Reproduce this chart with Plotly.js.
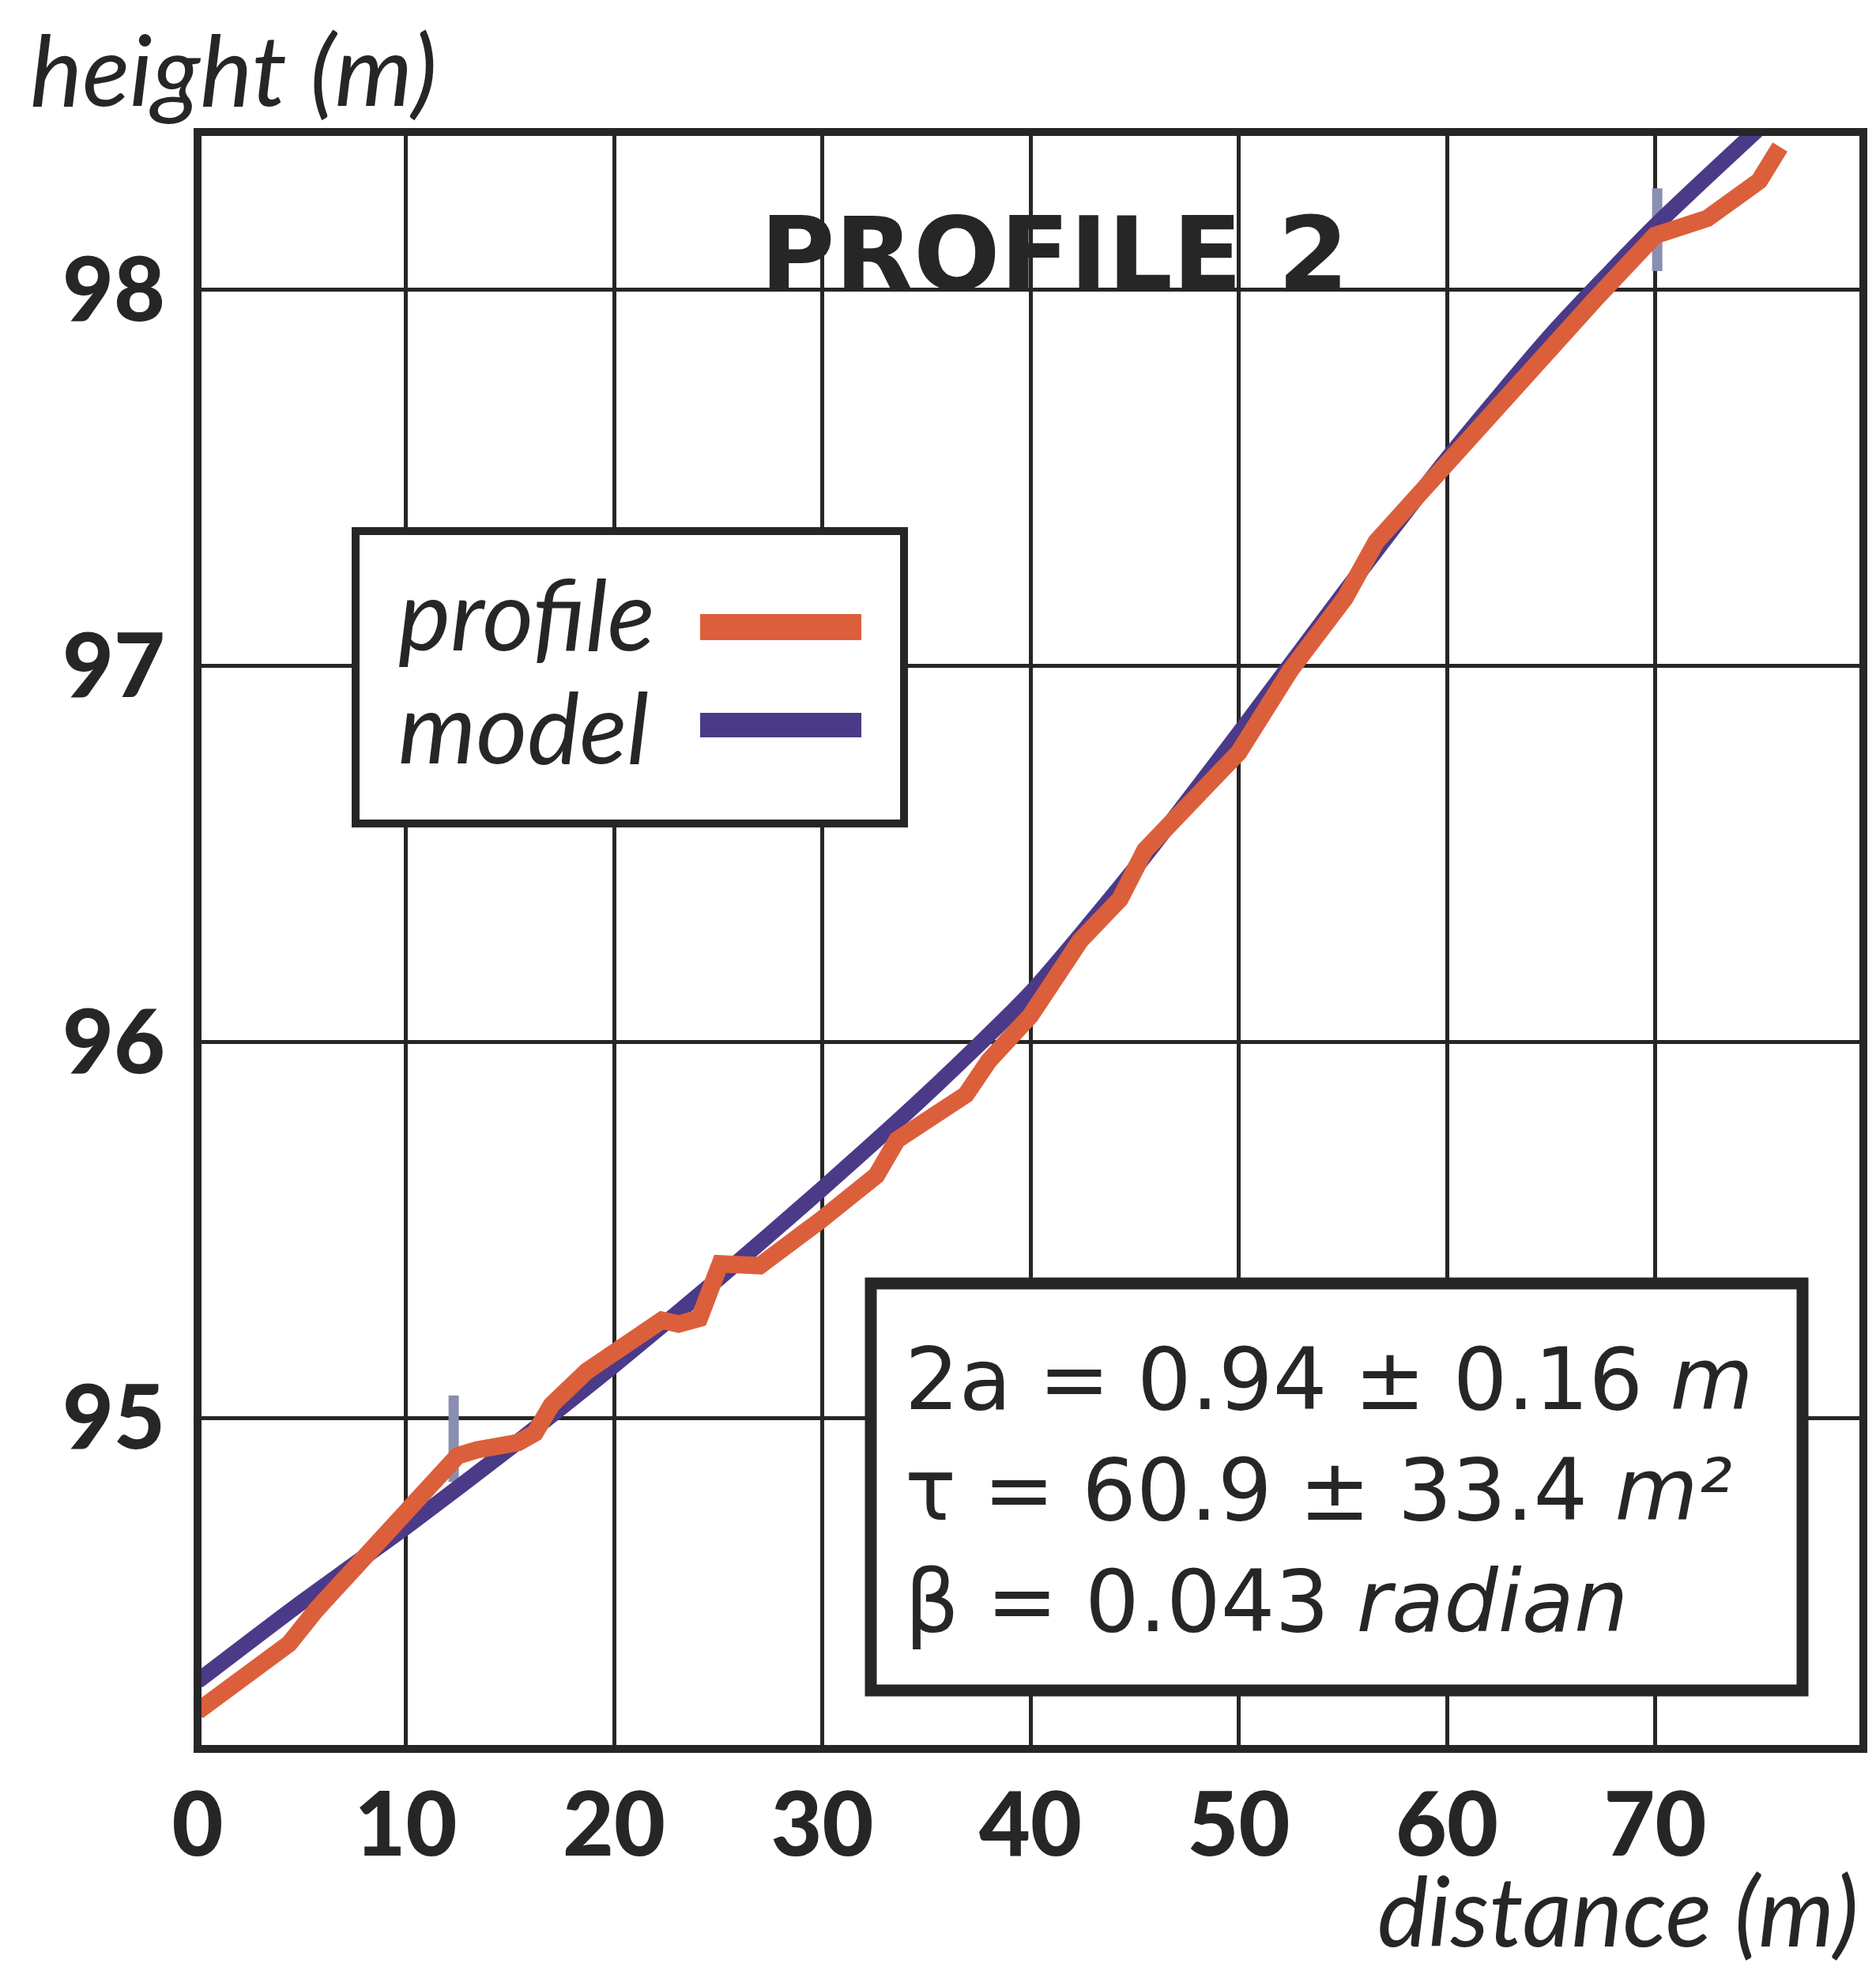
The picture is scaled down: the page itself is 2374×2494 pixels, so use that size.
<!DOCTYPE html>
<html>
<head>
<meta charset="utf-8">
<script src="https://cdn.plot.ly/plotly-3.0.1.min.js"></script>
<style>
html, body { margin: 0; padding: 0; background: #ffffff; }
#chart { width: 2374px; height: 2494px; }
</style>
</head>
<body>
<div id="chart"></div>
<script>
// ---------------- data ----------------
const distanceProfile = [0, 4.4, 5.7, 10.0, 12.5, 13.4, 15.4, 16.2, 17.0, 18.7, 20.9, 22.3, 23.1, 24.1, 25.1, 27.0, 29.9, 32.6, 33.6, 36.9, 38.0, 40.0, 42.4, 44.3, 45.5, 47.5, 50.0, 52.5, 55.1, 56.6, 60.0, 64.6, 67.2, 70.0, 72.5, 75.0, 76.0];
const heightProfile   = [94.22, 94.40, 94.49, 94.75, 94.90, 94.915, 94.935, 94.96, 95.035, 95.125, 95.21, 95.26, 95.25, 95.265, 95.41, 95.405, 95.525, 95.645, 95.74, 95.86, 95.95, 96.07, 96.27, 96.38, 96.51, 96.63, 96.77, 96.99, 97.18, 97.33, 97.54, 97.83, 97.98, 98.145, 98.19, 98.29, 98.38];

const distanceModel = [0, 5, 10, 15, 20, 25, 30, 35, 40, 45, 50, 55, 60, 65, 70, 75];
const heightModel   = [94.30, 94.51, 94.71, 94.92, 95.14, 95.37, 95.61, 95.86, 96.13, 96.46, 96.82, 97.19, 97.55, 97.88, 98.17, 98.43];

// small stippled reference marks
const markDistance = [12.3, 70.1];
const markLow      = [94.83, 98.05];
const markHigh     = [95.06, 98.27];

const xTickValues = [0, 10, 20, 30, 40, 50, 60, 70];
const xTickLabels = ['0', '10', '20', '30', '40', '50', '60', '70'];
const yTickValues = [95, 96, 97, 98];
const yTickLabels = ['95', '96', '97', '98'];

const seriesNames = ['profile', 'model'];
const chartTitle = 'PROFILE 2';
const xAxisLabel = 'distance (m)';
const yAxisLabel = 'height (m)';
const paramLines = ['2a = 0.94 ± 0.16 <i>m</i>', 'τ = 60.9 ± 33.4 <i>m²</i>', 'β = 0.043 <i>radian</i>'];

// ---------------- styles ----------------
const INK = '#262626';
const ORANGE = '#DC5F3B';
const PURPLE = '#4B3A88';
const STIPPLE = '#8a8eb0';

// plot-area geometry (px) used for the decorative elements
const W = 2374, H = 2494;
const M = { l: 250, r: 16, t: 167, b: 281 };
const PW = W - M.l - M.r, PH = H - M.t - M.b;
const px = v => (v - M.l) / PW;
const py = v => (H - M.b - v) / PH;

const markX = [], markY = [];
markDistance.forEach((d, i) => { markX.push(d, d, null); markY.push(markLow[i], markHigh[i], null); });

const traces = [
  { x: markX, y: markY, mode: 'lines', line: { color: STIPPLE, width: 13 }, hoverinfo: 'skip', showlegend: false },
  { x: distanceModel, y: heightModel, name: seriesNames[1], mode: 'lines',
    line: { color: PURPLE, width: 20, shape: 'spline', smoothing: 0.6 } },
  { x: distanceProfile, y: heightProfile, name: seriesNames[0], mode: 'lines',
    line: { color: ORANGE, width: 22 } }
];

const tickFont = { family: 'Lato', size: 112, weight: 900, color: INK };
const italicFont = { family: 'Lato', size: 125, style: 'italic', color: INK };

const layout = {
  width: W, height: H,
  margin: { l: M.l, r: M.r, t: M.t, b: M.b, pad: 0 },
  paper_bgcolor: '#ffffff', plot_bgcolor: '#ffffff',
  showlegend: false,
  font: { family: 'Lato', color: INK },
  xaxis: {
    range: [0, 80], tickmode: 'array', tickvals: xTickValues, ticktext: xTickLabels,
    showgrid: true, gridcolor: INK, gridwidth: 5, zeroline: false, showline: false,
    ticks: '', tickfont: tickFont, ticklabelstandoff: 22, fixedrange: true
  },
  yaxis: {
    range: [94.12, 98.42], tickmode: 'array', tickvals: yTickValues, ticktext: yTickLabels,
    showgrid: true, gridcolor: INK, gridwidth: 5, zeroline: false, showline: false,
    ticks: '', tickfont: tickFont, ticklabelstandoff: 40, fixedrange: true
  },
  shapes: [
    // frame
    { type: 'rect', xref: 'paper', yref: 'paper', x0: 0, x1: 1, y0: 0, y1: 1,
      line: { color: INK, width: 10 }, fillcolor: 'rgba(0,0,0,0)', layer: 'above' },
    // legend box
    { type: 'rect', xref: 'paper', yref: 'paper', x0: px(450), x1: px(1144), y0: py(1042), y1: py(672),
      line: { color: INK, width: 10 }, fillcolor: '#ffffff', layer: 'above' },
    { type: 'rect', xref: 'paper', yref: 'paper', x0: px(886), x1: px(1090), y0: py(810), y1: py(777),
      line: { width: 0 }, fillcolor: ORANGE, layer: 'above' },
    { type: 'rect', xref: 'paper', yref: 'paper', x0: px(886), x1: px(1090), y0: py(933), y1: py(902),
      line: { width: 0 }, fillcolor: PURPLE, layer: 'above' },
    // parameter box
    { type: 'rect', xref: 'paper', yref: 'paper', x0: px(1102), x1: px(2281), y0: py(2139), y1: py(1624),
      line: { color: INK, width: 15 }, fillcolor: '#ffffff', layer: 'above' }
  ],
  annotations: [
    { text: chartTitle, xref: 'paper', yref: 'paper', x: px(1334), y: py(321), xanchor: 'center', yanchor: 'middle',
      showarrow: false, font: { family: 'DejaVu Sans', size: 129, weight: 'bold', color: INK } },
    { text: yAxisLabel, xref: 'paper', yref: 'paper', x: px(36), y: py(86), xanchor: 'left', yanchor: 'middle',
      showarrow: false, font: italicFont },
    { text: xAxisLabel, xref: 'paper', yref: 'paper', x: px(2354), y: py(2416), xanchor: 'right', yanchor: 'middle',
      showarrow: false, font: { family: 'Lato', size: 122, style: 'italic', color: INK } },
    { text: seriesNames[0], xref: 'paper', yref: 'paper', x: px(502), y: py(775), xanchor: 'left', yanchor: 'middle',
      showarrow: false, font: italicFont },
    { text: seriesNames[1], xref: 'paper', yref: 'paper', x: px(502), y: py(918), xanchor: 'left', yanchor: 'middle',
      showarrow: false, font: italicFont },
    { text: paramLines.join('<br>'), xref: 'paper', yref: 'paper', x: px(1143), y: py(1886), xanchor: 'left', yanchor: 'middle',
      align: 'left', showarrow: false, font: { family: 'DejaVu Sans', size: 108, color: INK } }
  ]
};

Plotly.newPlot('chart', traces, layout, { staticPlot: true, displayModeBar: false });
</script>
</body>
</html>
